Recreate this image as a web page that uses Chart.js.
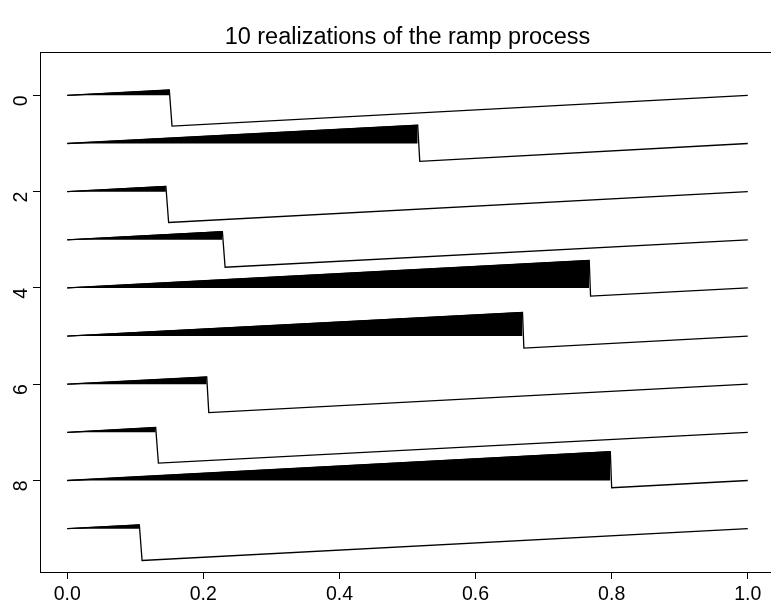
<!DOCTYPE html>
<html>
<head>
<meta charset="utf-8">
<script src="https://cdn.jsdelivr.net/npm/chart.js@4/dist/chart.umd.min.js"></script>
<style>
html,body{margin:0;padding:0;background:#fff;overflow:hidden;}
#wrap{width:800px;height:610px;}
</style>
</head>
<body>
<div id="wrap"><canvas id="c" width="800" height="610"></canvas></div>
<script>
// ---- data ----
const rowIndex      = [0, 1, 2, 3, 4, 5, 6, 7, 8, 9];
const jumpTimes     = [0.150, 0.515, 0.145, 0.228, 0.767, 0.669, 0.205, 0.130, 0.798, 0.106];
const dropEndTimes  = [0.154, 0.518, 0.149, 0.232, 0.769, 0.671, 0.208, 0.134, 0.800, 0.110];
const peakHeights   = [0.11, 0.38, 0.11, 0.17, 0.57, 0.49, 0.15, 0.10, 0.60, 0.08];
const troughDepths  = [0.64, 0.37, 0.64, 0.57, 0.17, 0.25, 0.59, 0.64, 0.15, 0.66];
const xTicks        = [0, 0.2, 0.4, 0.6, 0.8, 1.0];
const xTickLabels   = ["0.0", "0.2", "0.4", "0.6", "0.8", "1.0"];
const yTicks        = [0, 2, 4, 6, 8];
const yTickLabels   = ["0", "2", "4", "6", "8"];
const titleText     = "10 realizations of the ramp process";

const FONT = "'Liberation Sans', Arial, Helvetica, sans-serif";

const datasets = [];
rowIndex.forEach((r, k) => {
  // filled ramp (triangle above the baseline)
  datasets.push({
    data: [{x: 0, y: r}, {x: jumpTimes[k], y: r - peakHeights[k]}],
    borderColor: '#000', borderWidth: 1, backgroundColor: '#000',
    fill: {value: r}, pointRadius: 0, tension: 0
  });
  // full path
  datasets.push({
    data: [
      {x: 0, y: r},
      {x: jumpTimes[k], y: r - peakHeights[k]},
      {x: dropEndTimes[k], y: r + troughDepths[k]},
      {x: 1, y: r}
    ],
    borderColor: '#000', borderWidth: 1.3, fill: false, pointRadius: 0, tension: 0
  });
});

const boxPlugin = {
  id: 'box',
  afterDatasetsDraw(chart) {
    const a = chart.chartArea, ctx = chart.ctx;
    ctx.save();
    ctx.strokeStyle = '#000';
    ctx.lineWidth = 1;
    ctx.strokeRect(Math.round(a.left) + 0.5, Math.round(a.top) + 0.5,
                   Math.round(a.right - a.left), Math.round(a.bottom - a.top));
    ctx.restore();
  }
};

new Chart(document.getElementById('c'), {
  type: 'line',
  data: {datasets},
  plugins: [boxPlugin],
  options: {
    responsive: false,
    animation: false,
    layout: {padding: {left: 0, right: 25, top: 0, bottom: 0}},
    plugins: {
      legend: {display: false},
      tooltip: {enabled: false},
      title: {
        display: true, text: titleText, fullSize: false,
        color: '#000',
        font: {family: FONT, size: 23.5, weight: 'normal', lineHeight: 1.2},
        padding: {top: 23, bottom: 0.8}
      },
      filler: {propagate: false}
    },
    scales: {
      x: {
        type: 'linear', min: -0.04, max: 1.04,
        afterBuildTicks(s) { s.ticks = xTicks.map(v => ({value: v})); },
        afterFit(s) { s.height = 38; },
        grid: {drawOnChartArea: false, drawTicks: true, tickLength: 7, color: '#000', tickColor: '#000'},
        border: {display: false},
        ticks: {
          color: '#000', font: {family: FONT, size: 19.5}, padding: 4,
          maxRotation: 0, minRotation: 0,
          callback(v) { const i = xTicks.indexOf(v); return i >= 0 ? xTickLabels[i] : ''; }
        }
      },
      y: {
        type: 'linear', min: -0.9, max: 9.9, reverse: true,
        afterBuildTicks(s) { s.ticks = yTicks.map(v => ({value: v})); },
        afterFit(s) { s.width = 40; },
        grid: {drawOnChartArea: false, drawTicks: true, tickLength: 7, color: '#000', tickColor: '#000'},
        border: {display: false},
        ticks: {
          color: '#000', font: {family: FONT, size: 19.5}, padding: 11,
          minRotation: 90, maxRotation: 90,
          callback(v) { const i = yTicks.indexOf(v); return i >= 0 ? yTickLabels[i] : ''; }
        }
      }
    }
  }
});
</script>
</body>
</html>
